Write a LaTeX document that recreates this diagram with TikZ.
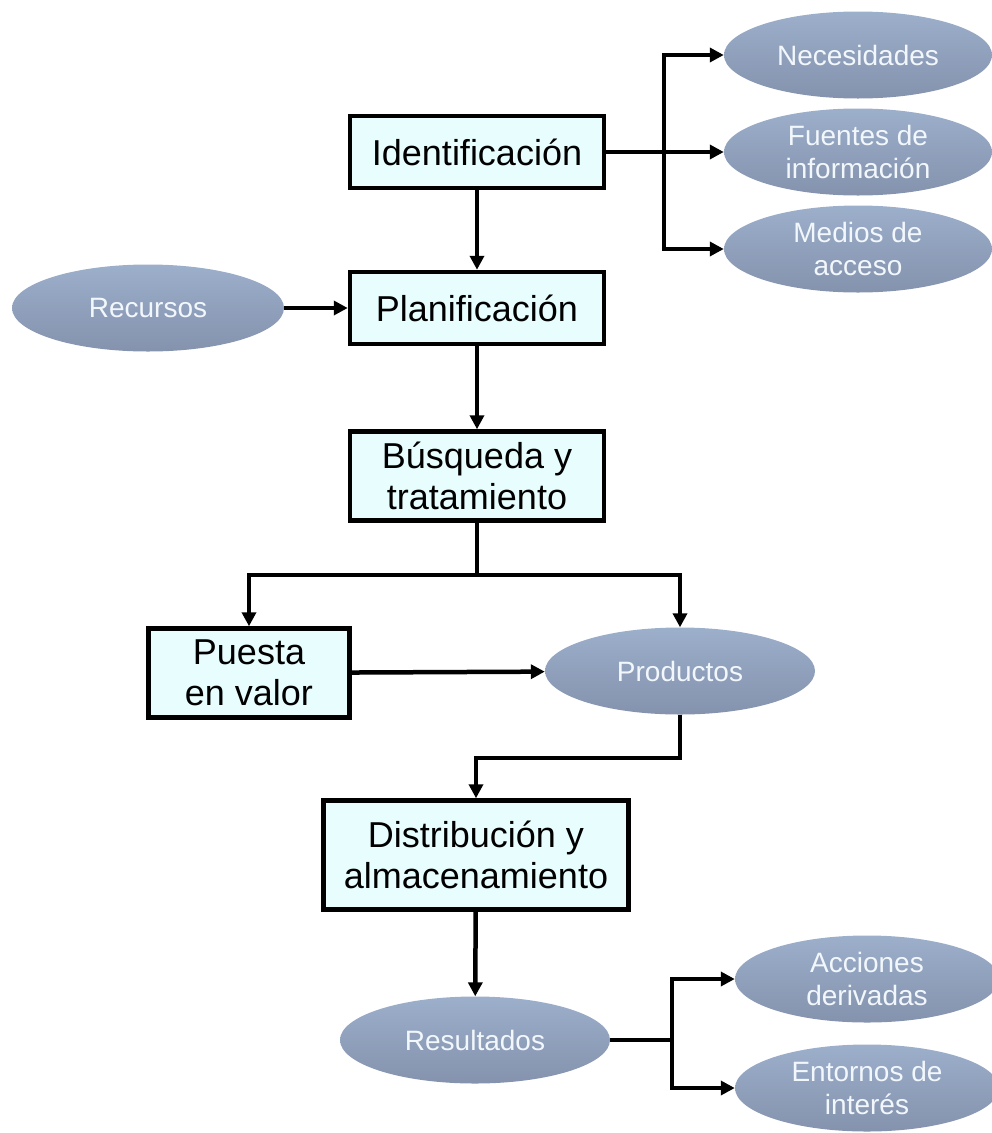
\documentclass[tikz,border=0pt]{standalone}
\usepackage{fontspec}
\setmainfont{Liberation Sans}
\usetikzlibrary{shapes.geometric,arrows.meta}

\definecolor{boxfill}{HTML}{E8FEFE}
\definecolor{ovaltop}{HTML}{9CAFCB}
\definecolor{ovalbot}{HTML}{8492AD}
\definecolor{ovaltext}{HTML}{F2F7FC}

\begin{document}
\begin{tikzpicture}
  [x=1pt,y=-1pt,
   box/.style={rectangle,draw=black,line width=4.5pt,fill=boxfill,align=center,
     inner sep=0pt,font=\fontsize{36}{41}\selectfont},
   oval/.style={ellipse,top color=ovaltop,bottom color=ovalbot,draw=none,
     minimum width=268pt,minimum height=87pt,inner sep=0pt,align=center,
     text=ovaltext,font=\fontsize{28}{33}\selectfont},
   link/.style={line width=4.5pt},
   arr/.style={link,-{Triangle[length=14pt,width=14pt]}}]
  \useasboundingbox (0,0) rectangle (992,1133);
  % process boxes
  \node[box,minimum width=254pt,minimum height=72pt] (id) at (477,152) {Identificación};
  \node[box,minimum width=254pt,minimum height=72pt] (pl) at (477,308) {Planificación};
  \node[box,minimum width=254pt,minimum height=89pt] (bu) at (477,476) {Búsqueda y\\tratamiento};
  \node[box,minimum width=201pt,minimum height=89pt] (pv) at (249,673) {Puesta\\en valor};
  \node[box,minimum width=305pt,minimum height=109pt] (di) at (476,855) {Distribución y\\almacenamiento};
  % ovals
  \node[oval] (ne) at (858,55)  {Necesidades};
  \node[oval] (fu) at (858,152) {Fuentes de\\información};
  \node[oval] (me) at (858,249) {Medios de\\acceso};
  \node[oval,minimum width=272pt] (rc) at (148,308) {Recursos};
  \node[oval,minimum width=270pt] (pr) at (680,671) {Productos};
  \node[oval,minimum width=270pt] (re) at (475,1040) {Resultados};
  \node[oval,minimum width=264pt] (ac) at (867,979) {Acciones\\derivadas};
  \node[oval,minimum width=264pt] (en) at (867,1088) {Entornos de\\interés};
  % junctions
  \coordinate (j1) at (664,152);
  \coordinate (j2) at (477,575);
  \coordinate (j3) at (680,758);
  \coordinate (j4) at (672,1040);
  % connectors
  \draw[link] (id) -- (j1);
  \foreach \to in {ne,fu,me}
    \draw[arr] (j1) |- (\to.west);
  \draw[arr] (id) -- (pl);
  \draw[arr] (rc) -- (pl);
  \draw[arr] (pl) -- (bu);
  \draw[link] (bu) -- (j2);
  \foreach \to in {pv,pr}
    \draw[arr] (j2) -| (\to);
  \draw[arr] (pv) -- (pr);
  \draw[arr] (pr) -- (j3) -| (di);
  \draw[arr] (di) -- (re);
  \draw[link] (re) -- (j4);
  \foreach \to in {ac,en}
    \draw[arr] (j4) |- (\to.west);
\end{tikzpicture}
\end{document}
